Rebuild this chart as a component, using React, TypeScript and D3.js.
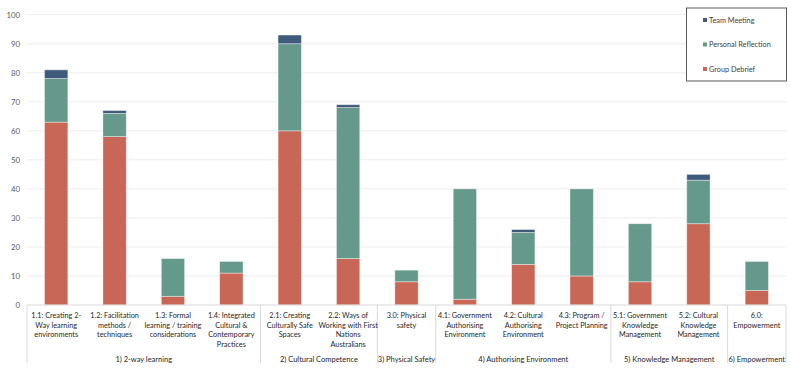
import React from "react";
import * as d3 from "d3";

const categories = [
  ["1.1: Creating 2-", "Way learning", "environments"],
  ["1.2: Facilitation", "methods /", "techniques"],
  ["1.3: Formal", "learning / training", "considerations"],
  ["1.4: Integrated", "Cultural &", "Contemporary", "Practices"],
  ["2.1: Creating", "Culturally Safe", "Spaces"],
  ["2.2: Ways of", "Working with First", "Nations", "Australians"],
  ["3.0: Physical", "safety"],
  ["4.1: Government", "Authorising", "Environment"],
  ["4.2: Cultural", "Authorising", "Environment"],
  ["4.3: Program /", "Project Planning"],
  ["5.1: Government", "Knowledge", "Management"],
  ["5.2: Cultural", "Knowledge", "Management"],
  ["6.0:", "Empowerment"],
];
const groups = [
  { name: "1) 2-way learning", count: 4 },
  { name: "2) Cultural Competence", count: 2 },
  { name: "3) Physical Safety", count: 1 },
  { name: "4) Authorising Environment", count: 3 },
  { name: "5) Knowledge Management", count: 2 },
  { name: "6) Empowerment", count: 1 },
];
const groupDebrief = [63, 58, 3, 11, 60, 16, 8, 2, 14, 10, 8, 28, 5];
const personalReflection = [15, 8, 13, 4, 30, 52, 4, 38, 11, 30, 20, 15, 10];
const teamMeeting = [3, 1, 0, 0, 3, 1, 0, 0, 1, 0, 0, 2, 0];
const seriesNames = ["Group Debrief", "Personal Reflection", "Team Meeting"];
const seriesColors = ["#c96756", "#64998c", "#3f5b7b"];
const yTicks = [0, 10, 20, 30, 40, 50, 60, 70, 80, 90, 100];

export default function App() {
  const W = 791, H = 374;
  const left = 27, right = 786, top = 14.7, bottom = 305;
  const x = d3.scaleBand<number>().domain(d3.range(categories.length)).range([left, right]).paddingInner(0).paddingOuter(0);
  const y = d3.scaleLinear().domain([0, 100]).range([bottom, top]);
  const rows = categories.map((_, i) => ({
    i,
    "Group Debrief": groupDebrief[i],
    "Personal Reflection": personalReflection[i],
    "Team Meeting": teamMeeting[i],
  }));
  const stacked = d3.stack<any>().keys(seriesNames)(rows);
  const bw = x.bandwidth() * 0.4;
  const font = "Lato, 'Open Sans', sans-serif";

  let acc = 0;
  const groupBounds = groups.map((g) => {
    const s = acc;
    acc += g.count;
    return { ...g, s, e: acc };
  });
  const edgeX = (k: number) => (k >= categories.length ? right : (x(k) as number));

  return (
    <svg width={W} height={H} style={{ position: "absolute", left: 0, top: 0, background: "#fff" }}>
      {yTicks.map((t) => (
        <g key={t}>
          {t > 0 && <line x1={left} x2={right} y1={y(t)} y2={y(t)} stroke="#ececec" strokeWidth={1} />}
          <text x={20} y={y(t) + 3} fontSize={7.8} textAnchor="end" fill="#595959" fontFamily={font}>{t}</text>
        </g>
      ))}
      {stacked.map((layer, si) =>
        layer.map((d, i) => {
          const h = y(d[0]) - y(d[1]);
          if (h <= 0) return null;
          return (
            <rect key={si + "-" + i}
              x={(x(i) as number) + (x.bandwidth() - bw) / 2}
              y={y(d[1])} width={bw} height={h}
              fill={seriesColors[si]} stroke="#ffffff" strokeOpacity={0.5} strokeWidth={0.8} />
          );
        })
      )}
      <line x1={left} x2={right} y1={bottom} y2={bottom} stroke="#d9d9d9" />
      {groupBounds.map((g, gi) => (
        <g key={g.name}>
          {gi === 0 && <line x1={left} x2={left} y1={bottom} y2={363} stroke="#d9d9d9" />}
          <line x1={edgeX(g.e)} x2={edgeX(g.e)} y1={bottom} y2={363} stroke="#d9d9d9" />
          <text x={(edgeX(g.s) + edgeX(g.e)) / 2} y={362} fontSize={7.5} textAnchor="middle" fill="#262626" fontFamily={font}>{g.name}</text>
        </g>
      ))}
      {categories.map((lines, i) => (
        <text key={i} x={(x(i) as number) + x.bandwidth() / 2} y={318} fontSize={7.3} textAnchor="middle" fill="#262626" fontFamily={font}>
          {lines.map((l, k) => (
            <tspan key={k} x={(x(i) as number) + x.bandwidth() / 2} dy={k === 0 ? 0 : 9.6}>{l}</tspan>
          ))}
        </text>
      ))}
      <rect x={686.5} y={8} width={100} height={73} fill="#fff" stroke="#595959" strokeWidth={1} />
      {[2, 1, 0].map((si, k) => (
        <g key={si}>
          <rect x={703} y={18 + k * 24.5} width={4} height={4} fill={seriesColors[si]} />
          <text x={709} y={22.5 + k * 24.5} fontSize={7.3} fill="#404040" fontFamily={font}>{seriesNames[si]}</text>
        </g>
      ))}
    </svg>
  );
}
